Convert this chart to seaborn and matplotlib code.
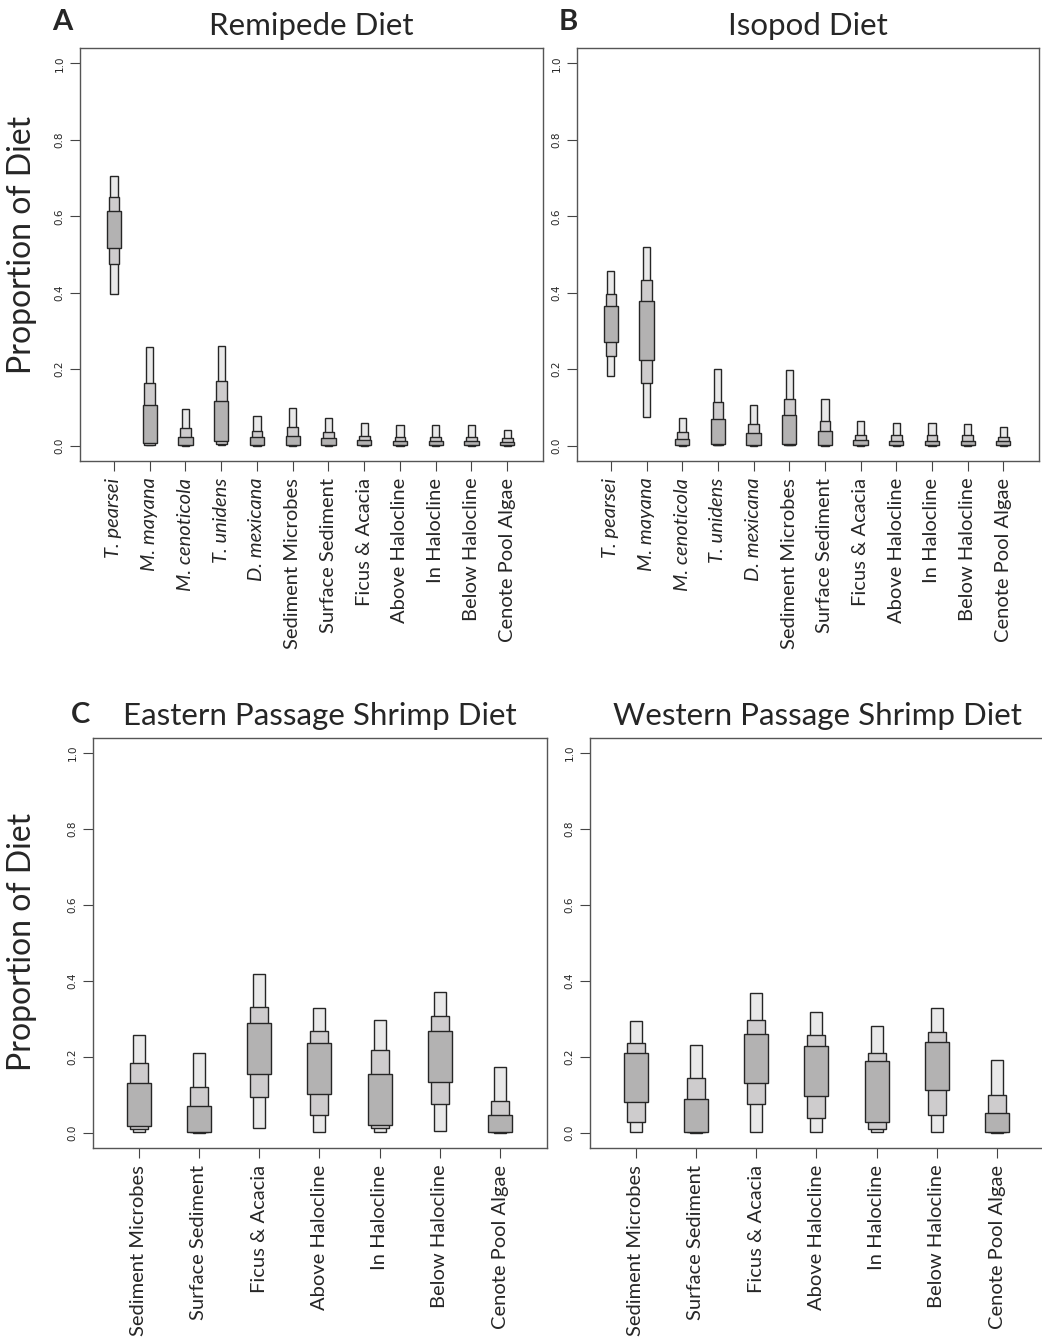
import matplotlib
matplotlib.use("Agg")
import matplotlib.pyplot as plt
import seaborn as sns

sns.set_style("white")
plt.rcParams['font.family'] = ['Lato', 'DejaVu Sans']

# sources for the two top panels
sources_top = ['T. pearsei', 'M. mayana', 'M. cenoticola', 'T. unidens', 'D. mexicana',
               'Sediment Microbes', 'Surface Sediment', 'Ficus & Acacia',
               'Above Halocline', 'In Halocline', 'Below Halocline', 'Cenote Pool Algae']
italic_top = ['T. pearsei', 'M. mayana', 'M. cenoticola', 'T. unidens', 'D. mexicana']
sources_bot = ['Sediment Microbes', 'Surface Sediment', 'Ficus & Acacia',
               'Above Halocline', 'In Halocline', 'Below Halocline', 'Cenote Pool Algae']

# A: Remipede diet (credible intervals 95 / 75 / 50 %)
lo95_a = [0.397, 0.001, 0.000, 0.001, 0.000, 0.000, 0.000, 0.000, 0.000, 0.000, 0.000, 0.000]
lo75_a = [0.476, 0.003, 0.001, 0.005, 0.001, 0.001, 0.001, 0.001, 0.001, 0.001, 0.001, 0.001]
lo50_a = [0.517, 0.006, 0.002, 0.011, 0.002, 0.002, 0.002, 0.002, 0.002, 0.002, 0.002, 0.001]
hi50_a = [0.615, 0.107, 0.024, 0.116, 0.022, 0.026, 0.019, 0.015, 0.013, 0.013, 0.013, 0.010]
hi75_a = [0.650, 0.164, 0.045, 0.170, 0.039, 0.048, 0.035, 0.026, 0.024, 0.024, 0.024, 0.019]
hi95_a = [0.704, 0.257, 0.095, 0.262, 0.078, 0.099, 0.073, 0.059, 0.054, 0.054, 0.054, 0.041]

# B: Isopod diet
lo95_b = [0.181, 0.074, 0.000, 0.001, 0.000, 0.001, 0.000, 0.000, 0.000, 0.000, 0.000, 0.000]
lo75_b = [0.234, 0.164, 0.001, 0.002, 0.001, 0.002, 0.001, 0.001, 0.001, 0.001, 0.001, 0.001]
lo50_b = [0.270, 0.223, 0.002, 0.005, 0.002, 0.004, 0.002, 0.001, 0.001, 0.001, 0.001, 0.001]
hi50_b = [0.365, 0.379, 0.018, 0.070, 0.033, 0.080, 0.039, 0.016, 0.013, 0.013, 0.013, 0.011]
hi75_b = [0.397, 0.434, 0.035, 0.115, 0.057, 0.122, 0.065, 0.029, 0.028, 0.028, 0.027, 0.022]
hi95_b = [0.456, 0.519, 0.072, 0.201, 0.106, 0.198, 0.122, 0.064, 0.059, 0.059, 0.058, 0.048]

# C: Eastern passage shrimp
lo95_c = [0.002, 0.000, 0.012, 0.001, 0.002, 0.004, 0.000]
lo75_c = [0.010, 0.001, 0.094, 0.047, 0.012, 0.075, 0.001]
lo50_c = [0.017, 0.003, 0.154, 0.103, 0.021, 0.133, 0.002]
hi50_c = [0.131, 0.071, 0.289, 0.236, 0.154, 0.267, 0.047]
hi75_c = [0.183, 0.122, 0.332, 0.267, 0.217, 0.308, 0.085]
hi95_c = [0.258, 0.210, 0.418, 0.328, 0.297, 0.372, 0.174]

# D: Western passage shrimp
lo95_d = [0.001, 0.000, 0.001, 0.001, 0.001, 0.001, 0.000]
lo75_d = [0.028, 0.001, 0.075, 0.040, 0.011, 0.046, 0.001]
lo50_d = [0.082, 0.003, 0.132, 0.097, 0.028, 0.113, 0.002]
hi50_d = [0.210, 0.089, 0.260, 0.229, 0.188, 0.240, 0.053]
hi75_d = [0.236, 0.144, 0.297, 0.258, 0.210, 0.265, 0.100]
hi95_d = [0.295, 0.232, 0.369, 0.319, 0.282, 0.330, 0.191]

fig = plt.figure(figsize=(10.42, 13.41), dpi=100)

W, H = 1042, 1341
def add_ax(l, t, r, b):
    return fig.add_axes([l / W, 1 - b / H, (r - l) / W, (b - t) / H])

ax_a = add_ax(80, 48, 543, 461)
ax_b = add_ax(577, 48, 1039, 461)
ax_c = add_ax(93, 738, 547, 1148)
ax_d = add_ax(590, 738, 1044, 1148)

shades = [('#e9e9e9', 0.2), ('#cecccd', 0.3), ('#b3b2b2', 0.4)]

def siar_panel(ax, names, lows, highs, title, xlim):
    x = list(range(len(names)))
    for (col, w), lo, hi in zip(shades, lows, highs):
        ax.bar(x, [h - l for h, l in zip(hi, lo)], bottom=lo, width=w,
               color=col, edgecolor='#262626', linewidth=1.0, zorder=3)
    ax.set_xlim(*xlim)
    ax.set_ylim(-0.04, 1.04)
    ax.set_yticks([0.0, 0.2, 0.4, 0.6, 0.8, 1.0])
    ax.set_yticklabels(['0.0', '0.2', '0.4', '0.6', '0.8', '1.0'], rotation=90,
                       va='center', fontsize=7.5, family=['DejaVu Sans'])
    ax.set_xticks(x)
    ax.set_xticklabels(names, rotation=90, fontsize=14.5)
    for lab in ax.get_xticklabels():
        if lab.get_text() in italic_top:
            lab.set_fontstyle('italic')
    ax.tick_params(axis='both', direction='out', length=7, width=0.8,
                   color='#444444', bottom=True, left=True)
    ax.tick_params(axis='x', pad=5)
    ax.tick_params(axis='y', pad=4)
    for sp in ax.spines.values():
        sp.set_visible(True)
        sp.set_color('#555555')
        sp.set_linewidth(1.0)
    ax.set_title(title, fontsize=22.5, pad=9)
    ax.set_xlabel('')
    ax.set_ylabel('')

siar_panel(ax_a, sources_top, [lo95_a, lo75_a, lo50_a], [hi95_a, hi75_a, hi50_a],
           'Remipede Diet', (-0.95, 12.0))
siar_panel(ax_b, sources_top, [lo95_b, lo75_b, lo50_b], [hi95_b, hi75_b, hi50_b],
           'Isopod Diet', (-0.95, 12.0))
siar_panel(ax_c, sources_bot, [lo95_c, lo75_c, lo50_c], [hi95_c, hi75_c, hi50_c],
           'Eastern Passage Shrimp Diet', (-0.76, 6.78))
siar_panel(ax_d, sources_bot, [lo95_d, lo75_d, lo50_d], [hi95_d, hi75_d, hi50_d],
           'Western Passage Shrimp Diet', (-0.76, 6.78))

# panel letters and shared y labels
fig.text(62 / W, 1 - 22 / H, 'A', fontsize=21, fontweight='bold', ha='center', va='center')
fig.text(568 / W, 1 - 22 / H, 'B', fontsize=21, fontweight='bold', ha='center', va='center')
fig.text(80 / W, 1 - 715 / H, 'C', fontsize=21, fontweight='bold', ha='center', va='center')
fig.text(22 / W, 1 - 245 / H, 'Proportion of Diet', fontsize=23, rotation=90,
         ha='center', va='center')
fig.text(22 / W, 1 - 942 / H, 'Proportion of Diet', fontsize=23, rotation=90,
         ha='center', va='center')

fig.savefig('out.png', dpi=100)
